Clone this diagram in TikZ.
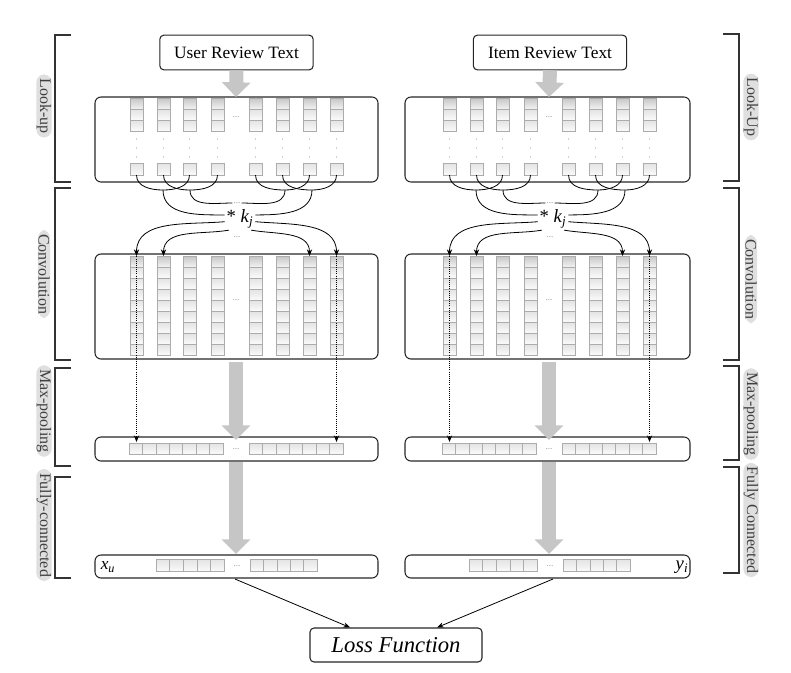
\documentclass[tikz,border=0pt]{standalone}
\usepackage{fontspec}
\setmainfont{Liberation Serif}
\usetikzlibrary{arrows.meta}

\tikzset{every picture/.style={line width=0.75pt}}
\tikzset{
  panel/.style={draw=black!85, line width=0.8pt, rounded corners=4.5pt},
  cell/.style={draw=gray!65, line width=0.4pt, top color=gray!22, bottom color=gray!4},
  cellhead/.style={draw=gray!65, line width=0.4pt, top color=gray!45, bottom color=gray!10},
  txtbox/.style={draw=black!85, line width=0.8pt, rounded corners=3pt, fill=white, minimum width=115pt, minimum height=26pt, font=\fontsize{13}{15}\selectfont},
  lossbox/.style={txtbox, minimum width=129pt, minimum height=25.5pt, font=\fontsize{17}{19}\selectfont\itshape},
  conn/.style={draw=black, line width=0.6pt},
  tip/.style={conn, -{Stealth[length=5pt,width=4pt]}},
  dotconn/.style={draw=black, line width=0.6pt, densely dotted, -{Stealth[length=5pt,width=4pt]}},
  fatarrow/.style={draw=gray!45, line width=10.5pt, -{Triangle[width=21pt,length=11pt]}},
  elide/.style={font=\fontsize{7}{8}\selectfont, text=gray!80, inner sep=0.5pt},
  stagelbl/.style={fill=gray!25, rounded corners=6pt, rotate=-90, inner xsep=3pt, inner ysep=0.3pt, font=\fontsize{12}{13}\selectfont, text=black!75},
  bracket/.style={draw=black!80, line width=0.8pt},
}

\begin{document}
\begin{tikzpicture}[x=0.75pt,y=0.75pt,yscale=-1,xscale=1]
	\useasboundingbox (0,0) rectangle (791,672);

	%Text boxes
	\node[txtbox] (revU) at (236.5,52.5) {User Review Text};
	\node[txtbox] (revI) at (550,52.5) {Item Review Text};

	%both towers, user (U) and item (I)
	\foreach \sd/\off/\pl/\pr in {U/0/95/378,I/313/405/690}{
		%Rounded Rect: panels
		\draw[panel] (\pl,97) rectangle (\pr,182);
		\draw[panel] (\pl,254) rectangle (\pr,359);
		\draw[panel] (\pl,437) rectangle (\pr,461);
		\draw[panel] (\pl,555) rectangle (\pr,578);

		%look-up and convolution columns
		\foreach \c [count=\n] in {130,157,183,211,249,276,303,330}{
			\draw[cellhead] (\c+\off,98) rectangle ++(13,11);
			\foreach \y in {109,120} \draw[cell] (\c+\off,\y) rectangle ++(13,11);
			\foreach \y in {139,148,157} \fill[gray!70] (\c+\off+6.5,\y) circle (0.6);
			\draw[cell] (\c+\off,163) rectangle ++(13,12);
			\coordinate (lk\sd\n) at (\c+\off+6.5,175);
			\draw[cellhead] (\c+\off,256) rectangle ++(13,11);
			\foreach \y in {267,278,...,345} \draw[cell] (\c+\off,\y) rectangle ++(13,11);
			\coordinate (cv\sd\n) at (\c+\off+6.5,256);
		}
		\node[elide] (lkDots\sd) at (236+\off,117) {...};
		\node[elide] (cvDots\sd) at (236+\off,300) {...};

		%max-pooling cells
		\foreach \i in {0,...,6}{
			\draw[cell] (129+\i*13.4+\off,443) rectangle ++(13.4,11);
			\draw[cell] (249+\i*13.4+\off,443) rectangle ++(13.4,11);
		}
		\node[elide] (mpDots\sd) at (236+\off,449) {...};
		\coordinate (mp\sd1) at (136.5+\off,442);
		\coordinate (mp\sd8) at (336.5+\off,442);

		%fully connected cells
		\foreach \i in {0,...,4}{
			\draw[cell] (156+\i*13.6+\off,559) rectangle ++(13.6,12);
			\draw[cell] (250+\i*13.4+\off,559) rectangle ++(13.4,12);
		}
		\node[elide] (fcDots\sd) at (237+\off,566) {...};

		%filter
		\node[font=\fontsize{14}{16}\selectfont, inner sep=1pt] (kj\sd) at (240+\off,219) {* \textit{k}\textsubscript{\textit{j}}};
		\node[elide] (dta\sd) at (237+\off,203) {...};
		\node[elide] (dtb\sd) at (237+\off,237) {...};

		\coordinate (j\sd1) at (163+\off,190);
		\coordinate (j\sd2) at (190+\off,190);
		\coordinate (j\sd3) at (285+\off,190);
		\coordinate (j\sd4) at (312+\off,190);

		\draw[conn] (lk\sd1) to[out=90,in=180] (j\sd1);
		\draw[conn] (lk\sd3) to[out=90,in=0] (j\sd1);
		\draw[conn] (lk\sd2) to[out=90,in=180] (j\sd2);
		\draw[conn] (lk\sd4) to[out=90,in=0] (j\sd2);
		\draw[conn] (lk\sd5) to[out=90,in=180] (j\sd3);
		\draw[conn] (lk\sd7) to[out=90,in=0] (j\sd3);
		\draw[conn] (lk\sd6) to[out=90,in=180] (j\sd4);
		\draw[conn] (lk\sd8) to[out=90,in=0] (j\sd4);

		\draw[conn] (j\sd1) to[out=90,in=180] (kj\sd.165);
		\draw[conn] (j\sd2) to[out=90,in=180] (dta\sd.west);
		\draw[conn] (j\sd3) to[out=90,in=0] (dta\sd.east);
		\draw[conn] (j\sd4) to[out=90,in=0] (kj\sd.15);

		\draw[tip] (kj\sd.190) to[out=175,in=-90] (cv\sd1);
		\draw[tip] (kj\sd.225) to[out=170,in=-90] (cv\sd2);
		\draw[tip] (kj\sd.-45) to[out=10,in=-90] (cv\sd7);
		\draw[tip] (kj\sd.-10) to[out=5,in=-90] (cv\sd8);

		%dotted max selection
		\draw[dotconn] ([yshift=-4.5pt]cv\sd1) -- (mp\sd1);
		\draw[dotconn] ([yshift=-4.5pt]cv\sd8) -- (mp\sd8);

		%gray flow arrows
		\coordinate (lkTop\sd) at (236+\off,97);
		\coordinate (cvBot\sd) at (236+\off,362);
		\coordinate (mpTop\sd) at (236+\off,440);
		\coordinate (mpBot\sd) at (236+\off,462);
		\coordinate (fcTop\sd) at (236+\off,554);
		\draw[fatarrow] (cvBot\sd) -- (mpTop\sd);
		\draw[fatarrow] (mpBot\sd) -- (fcTop\sd);
	}
	\draw[fatarrow] (revU.south) -- (lkTopU);
	\draw[fatarrow] (revI.south) -- (lkTopI);

	%outputs
	\node[font=\fontsize{13}{15}\selectfont] (xu) at (108,567) {\textit{x}\textsubscript{\textit{u}}};
	\node[font=\fontsize{14}{16}\selectfont] (yi) at (682,567) {\textit{y}\textsubscript{\textit{i}}};

	\node[lossbox] (loss) at (396,645) {Loss Function};
	\coordinate (fcOutU) at (235,579);
	\coordinate (fcOutI) at (553,579);
	\draw[tip] (fcOutU) -- ([xshift=-34.5pt]loss.north);
	\draw[tip] (fcOutI) -- ([xshift=30.75pt]loss.north);

	%Brackets left
	\draw[bracket] (71,35) -- (55,35) -- (55,182) -- (71,182);
	\draw[bracket] (71,188) -- (55,188) -- (55,360) -- (71,360);
	\draw[bracket] (71,368) -- (55,368) -- (55,466) -- (71,466);
	\draw[bracket] (71,477) -- (55,477) -- (55,578) -- (71,578);
	%Brackets right
	\draw[bracket] (723,34) -- (739,34) -- (739,181) -- (723,181);
	\draw[bracket] (723,188) -- (739,188) -- (739,360) -- (723,360);
	\draw[bracket] (723,366) -- (739,366) -- (739,460) -- (723,460);
	\draw[bracket] (723,467) -- (739,467) -- (739,573) -- (723,573);

	%Stage labels
	\node[stagelbl] (lkL) at (44,106) {Look-up};
	\node[stagelbl] (cvL) at (44,274) {Convolution};
	\node[stagelbl] (mpL) at (44,411) {Max-pooling};
	\node[stagelbl] (fcL) at (44,525) {Fully-connected};
	\node[stagelbl] (lkR) at (751,107) {Look-Up};
	\node[stagelbl] (cvR) at (751,279) {Convolution};
	\node[stagelbl] (mpR) at (751,414) {Max-pooling};
	\node[stagelbl] (fcR) at (751,520) {Fully Connected};

\end{tikzpicture}
\end{document}
